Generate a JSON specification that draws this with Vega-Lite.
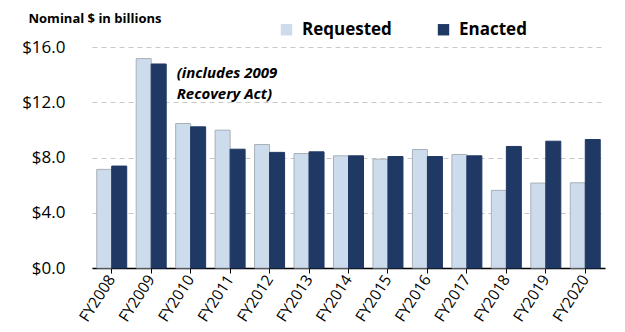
{
  "$schema": "https://vega.github.io/schema/vega-lite/v6.json",
  "width": 513,
  "height": 221,
  "autosize": "none",
  "padding": {"left": 92, "top": 47, "right": 20, "bottom": 64},
  "background": "white",
  "config": {
    "font": "Open Sans",
    "view": {"stroke": null}
  },
  "datasets": {
    "bars": [
      {"year": "FY2008", "type": "Requested", "value": 7.14},
      {"year": "FY2008", "type": "Enacted", "value": 7.38},
      {"year": "FY2009", "type": "Requested", "value": 15.16},
      {"year": "FY2009", "type": "Enacted", "value": 14.77},
      {"year": "FY2010", "type": "Requested", "value": 10.46},
      {"year": "FY2010", "type": "Enacted", "value": 10.22},
      {"year": "FY2011", "type": "Requested", "value": 9.98},
      {"year": "FY2011", "type": "Enacted", "value": 8.6},
      {"year": "FY2012", "type": "Requested", "value": 8.94},
      {"year": "FY2012", "type": "Enacted", "value": 8.37},
      {"year": "FY2013", "type": "Requested", "value": 8.29},
      {"year": "FY2013", "type": "Enacted", "value": 8.41},
      {"year": "FY2014", "type": "Requested", "value": 8.12},
      {"year": "FY2014", "type": "Enacted", "value": 8.12},
      {"year": "FY2015", "type": "Requested", "value": 7.88},
      {"year": "FY2015", "type": "Enacted", "value": 8.07},
      {"year": "FY2016", "type": "Requested", "value": 8.58},
      {"year": "FY2016", "type": "Enacted", "value": 8.07},
      {"year": "FY2017", "type": "Requested", "value": 8.22},
      {"year": "FY2017", "type": "Enacted", "value": 8.12},
      {"year": "FY2018", "type": "Requested", "value": 5.62},
      {"year": "FY2018", "type": "Enacted", "value": 8.8},
      {"year": "FY2019", "type": "Requested", "value": 6.15},
      {"year": "FY2019", "type": "Enacted", "value": 9.18},
      {"year": "FY2020", "type": "Requested", "value": 6.17},
      {"year": "FY2020", "type": "Enacted", "value": 9.3}
    ],
    "note": [
      {"year": "FY2010", "value": 14.1, "label": "(includes 2009\nRecovery Act)"}
    ]
  },
  "layer": [
    {
      "data": {"name": "bars"},
      "mark": {"type": "bar", "strokeWidth": 1},
      "encoding": {
        "x": {
          "field": "year",
          "type": "nominal",
          "scale": {"paddingInner": 0.24, "paddingOuter": 0.12},
          "axis": {
            "title": null,
            "labelAngle": -57,
            "labelAlign": "right",
            "labelBaseline": "middle",
            "labelFontSize": 15.5,
            "labelColor": "#000000",
            "labelPadding": 3,
            "tickSize": 5,
            "tickColor": "#000000",
            "domainColor": "#000000",
            "domainWidth": 1.5
          }
        },
        "xOffset": {
          "field": "type",
          "type": "nominal",
          "sort": ["Requested", "Enacted"],
          "scale": {"paddingInner": 0}
        },
        "y": {
          "field": "value",
          "type": "quantitative",
          "scale": {"domain": [0, 16]},
          "axis": {
            "values": [0, 4, 8, 12, 16],
            "format": "$.1f",
            "title": "Nominal $ in billions",
            "titleAngle": 0,
            "titleX": -64,
            "titleY": -29,
            "titleAlign": "left",
            "titleBaseline": "middle",
            "titleFontSize": 13,
            "titleFontWeight": "bold",
            "titleColor": "#000000",
            "labelFontSize": 17,
            "labelColor": "#000000",
            "labelPadding": 27,
            "domain": false,
            "ticks": false,
            "gridDash": [5, 4],
            "gridColor": "#c8c8c8"
          }
        },
        "color": {
          "field": "type",
          "type": "nominal",
          "sort": ["Requested", "Enacted"],
          "scale": {"domain": ["Requested", "Enacted"], "range": ["#cddcec", "#1f3864"]},
          "legend": {
            "title": null,
            "orient": "none",
            "legendX": 186,
            "legendY": -26,
            "direction": "horizontal",
            "symbolType": "square",
            "symbolSize": 130,
            "symbolStrokeWidth": 0,
            "labelFontSize": 17,
            "labelFontWeight": "bold",
            "labelColor": "#000000",
            "columnPadding": 43,
            "labelOffset": 7
          }
        },
        "stroke": {
          "field": "type",
          "type": "nominal",
          "scale": {"domain": ["Requested", "Enacted"], "range": ["#a8b0b8", "#1f3864"]},
          "legend": null
        }
      }
    },
    {
      "data": {"name": "note"},
      "mark": {
        "type": "text",
        "align": "left",
        "baseline": "middle",
        "fontSize": 15,
        "fontWeight": "bold",
        "fontStyle": "italic",
        "lineBreak": "\n",
        "lineHeight": 21,
        "dx": -14,
        "color": "#000000"
      },
      "encoding": {
        "x": {"field": "year", "type": "nominal"},
        "y": {"field": "value", "type": "quantitative"},
        "text": {"field": "label"}
      }
    }
  ]
}
